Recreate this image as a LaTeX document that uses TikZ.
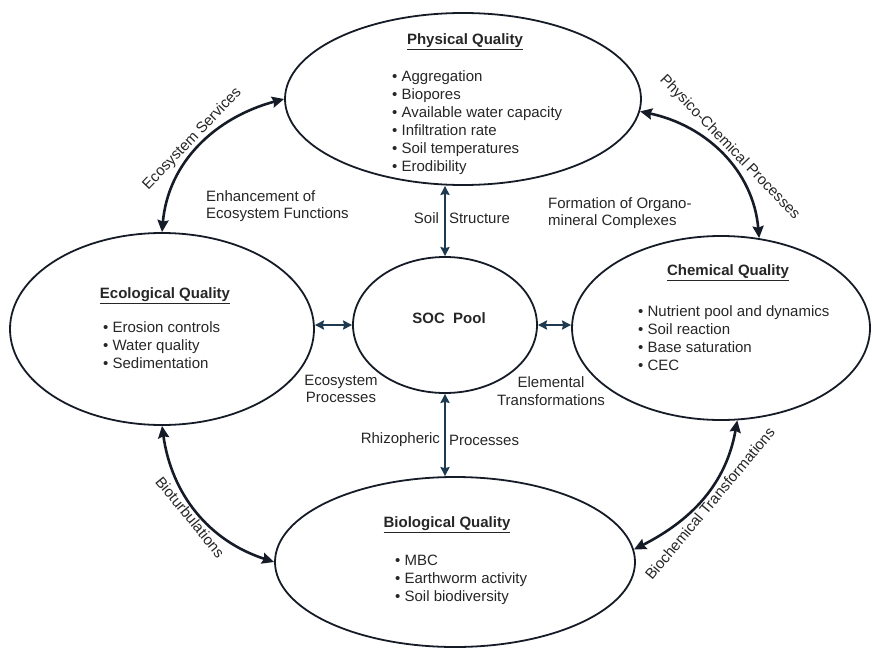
\documentclass[tikz,border=0pt]{standalone}
\usepackage{fontspec}
\setmainfont{Liberation Sans}
\usepackage{tikz}
\usetikzlibrary{arrows.meta,positioning,shapes.geometric,calc}
\definecolor{ink}{HTML}{151B27}
\definecolor{txt}{HTML}{262626}
\definecolor{lnk}{HTML}{1D3A50}
\tikzset{
  qual/.style ={draw=ink, ellipse, line width=1.8pt, inner sep=0pt},
  ttl/.style  ={font=\fontsize{15}{18}\selectfont\bfseries, text=txt, inner sep=0pt},
  items/.style={font=\fontsize{15}{18}\selectfont, align=left, text=txt, inner sep=0pt, anchor=west},
  lbl/.style  ={font=\fontsize{15}{17.5}\selectfont, text=txt, inner sep=2pt, align=center},
  link/.style ={<->, >={Stealth[length=9pt,width=9pt,inset=1pt]}, line width=2pt, draw=lnk},
  cyc/.style  ={<->, >={Stealth[length=12pt,width=11pt,inset=1.5pt]}, line width=2.6pt, draw=ink},
}
\begin{document}
\begin{tikzpicture}[x=1pt,y=1pt]
  \useasboundingbox (0,0) rectangle (872,-650);
  % the five pools
  \node[qual, minimum width=356pt, minimum height=172pt](phy) at (463,-99){};
  \node[qual, minimum width=304pt, minimum height=192pt](eco) at (162,-329){};
  \node[qual, minimum width=298pt, minimum height=184pt](chem) at (721,-328){};
  \node[qual, minimum width=184pt, minimum height=136pt](soc) at (445,-325){};
  \node[qual, minimum width=360pt, minimum height=170pt](bio) at (455,-562){};

  \node[ttl](phyT) at (465,-42){\underline{Physical Quality}};
  \node[items](phyL) at (392,-123){• Aggregation\\• Biopores\\• Available water capacity\\• Infiltration rate\\• Soil temperatures\\• Erodibility};
  \node[ttl](ecoT) at (165,-296){\underline{Ecological Quality}};
  \node[items](ecoL) at (103,-345){• Erosion controls\\• Water quality\\• Sedimentation};
  \node[ttl](chemT) at (728,-273){\underline{Chemical Quality}};
  \node[items](chemL) at (638,-338){• Nutrient pool and dynamics\\• Soil reaction\\• Base saturation\\• CEC};
  \node[ttl](bioT) at (447,-525){\underline{Biological Quality}};
  \node[items](bioL) at (395,-580){• MBC\\• Earthworm activity\\• Soil biodiversity};
  \node[ttl](socT) at (449,-318){SOC\ \ Pool};

  % links to the SOC pool
  \draw[link] (soc.north |- phy.south) -- node[lbl, pos=.46, left=3pt](lSoil){Soil}
    node[lbl, pos=.46, right=1pt](lStr){Structure} (soc.north);
  \draw[link] (soc.west -| eco.east) -- (soc.west);
  \draw[link] (soc.east) -- (soc.east -| chem.west);
  \draw[link] (soc.south) -- node[lbl, pos=.56, left=2pt](lRhi){Rhizopheric}
    node[lbl, pos=.56, right=1pt](lPro){Processes} (soc.south |- bio.north);

  \node[lbl](lEcoP) at (341,-389){Ecosystem\\Processes};
  \node[lbl](lElem) at (551,-391){Elemental\\Transformations};
  \node[lbl, align=left, anchor=west](lEnh) at (204,-206){Enhancement of\\Ecosystem Functions};
  \node[lbl, align=left, anchor=west](lForm) at (546,-213){Formation of Organo-\\mineral Complexes};

  % outer cycle
  \draw[cyc] (eco.north) to[out=85, in=195] node[lbl, sloped, above](lServ){Ecosystem Services} (phy.west);
  \draw[cyc] (phy.-4) to[out=-12, in=95] node[lbl, sloped, above](lPhys){Physico-Chemical Processes} (chem.67);
  \draw[cyc] (eco.south) to[out=-82, in=162] node[lbl, sloped, below](lTurb){Bioturbulations} (bio.west);
  \draw[cyc] (bio.4) to[out=27, in=-100] node[lbl, sloped, below](lBioc){Biochemical Transformations} (chem.-80);
\end{tikzpicture}
\end{document}
